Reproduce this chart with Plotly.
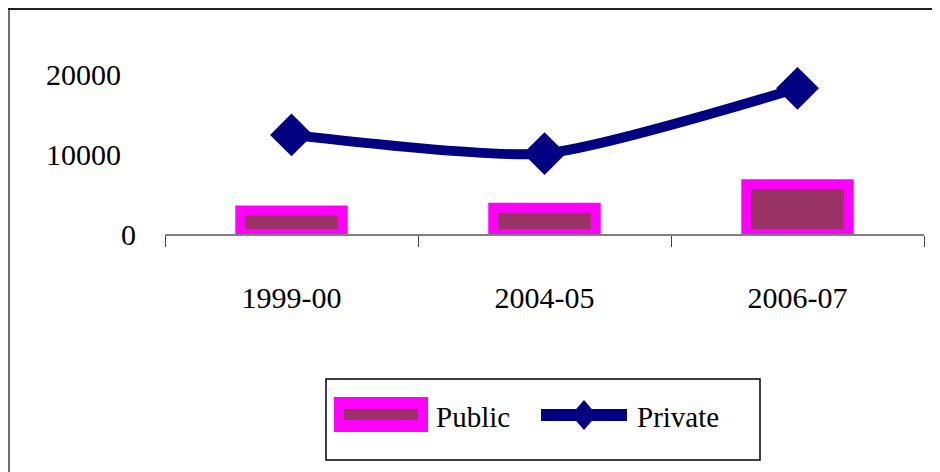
import plotly.graph_objects as go

categories = ["1999-00", "2004-05", "2006-07"]
public_values = [2950, 3300, 6250]
private_values = [12450, 10100, 18300]
y_tick_values = [0, 10000, 20000]
y_tick_labels = ["0", "10000", "20000"]

# Page has an 8px body margin; figure drawn at (8, 8)
OFF = 8
W, H = 932, 464
ML, MR, MT, MB = 157, 16, 27, 238
PW = W - ML - MR
PH = H - MT - MB

def fx(page_x):
    return (page_x - OFF - ML) / PW

def fy(page_y):
    return (H - MB - (page_y - OFF)) / PH

FONT = "Liberation Serif"
NAVY = "#000080"
MAGENTA = "#FF00FF"
MAROON = "#993366"

fig = go.Figure()
fig.add_trace(go.Bar(
    x=categories, y=public_values, name="Public",
    width=0.405,
    marker=dict(color=MAROON, line=dict(color=MAGENTA, width=10)),
))
fig.add_trace(go.Scatter(
    x=categories, y=private_values, name="Private",
    mode="lines+markers",
    line=dict(color=NAVY, width=10, shape="spline", smoothing=0.6),
    marker=dict(symbol="diamond", size=33, color=NAVY),
    cliponaxis=False,
))

shapes = [
    # chart area border (left and top visible)
    dict(type="line", xref="paper", yref="paper",
         x0=fx(9), x1=fx(9), y0=fy(7), y1=fy(480),
         line=dict(color="#707070", width=2)),
    dict(type="line", xref="paper", yref="paper",
         x0=fx(8), x1=fx(960), y0=fy(9), y1=fy(9),
         line=dict(color="#202020", width=2)),
    # legend box
    dict(type="rect", xref="paper", yref="paper",
         x0=fx(326), x1=fx(760), y0=fy(379), y1=fy(460),
         line=dict(color="black", width=1.5), fillcolor="white", layer="below"),
    # Public legend symbol
    dict(type="rect", xref="paper", yref="paper",
         x0=fx(334), x1=fx(428), y0=fy(397), y1=fy(432),
         line=dict(width=0), fillcolor=MAGENTA),
    dict(type="rect", xref="paper", yref="paper",
         x0=fx(344), x1=fx(418), y0=fy(409), y1=fy(420),
         line=dict(width=0), fillcolor=MAROON),
    # Private legend symbol
    dict(type="line", xref="paper", yref="paper",
         x0=fx(541), x1=fx(627), y0=fy(415), y1=fy(415),
         line=dict(color=NAVY, width=12)),
    dict(type="path", xref="paper", yref="paper",
         path=(f"M {fx(584)},{fy(400)} L {fx(597)},{fy(415)} "
               f"L {fx(584)},{fy(430)} L {fx(571)},{fy(415)} Z"),
         line=dict(width=0), fillcolor=NAVY),
]

annotations = [
    dict(xref="paper", yref="paper", x=fx(434), y=fy(417),
         xanchor="left", yanchor="middle", showarrow=False,
         text="Public", font=dict(family=FONT, size=29, color="black")),
    dict(xref="paper", yref="paper", x=fx(635), y=fy(417),
         xanchor="left", yanchor="middle", showarrow=False,
         text="Private", font=dict(family=FONT, size=29, color="black")),
]

# the longer labels sit slightly further left than "0" in the original
PAD = "\u00a0\u00a0"
y_tick_text = [lbl if len(lbl) == 1 else lbl + PAD for lbl in y_tick_labels]

fig.update_layout(
    width=W, height=H,
    margin=dict(l=ML, r=MR, t=MT, b=MB),
    paper_bgcolor="white", plot_bgcolor="white",
    font=dict(family=FONT, size=30, color="black"),
    showlegend=False,
    shapes=shapes,
    annotations=annotations,
)

fig.update_xaxes(
    type="category",
    showline=True, linecolor="#808080", linewidth=2,
    ticks="outside", tickson="boundaries", ticklen=11, tickcolor="#404040", tickwidth=1,
    ticklabelstandoff=36,
    showgrid=False, zeroline=False,
    tickfont=dict(family=FONT, size=30, color="black"),
)
fig.update_yaxes(
    range=[0, 25000],
    tickvals=y_tick_values, ticktext=y_tick_text,
    showline=False, showgrid=False, zeroline=False, ticks="",
    ticklabelstandoff=28,
    tickfont=dict(family=FONT, size=30, color="black"),
)

fig.write_html("out.html")
